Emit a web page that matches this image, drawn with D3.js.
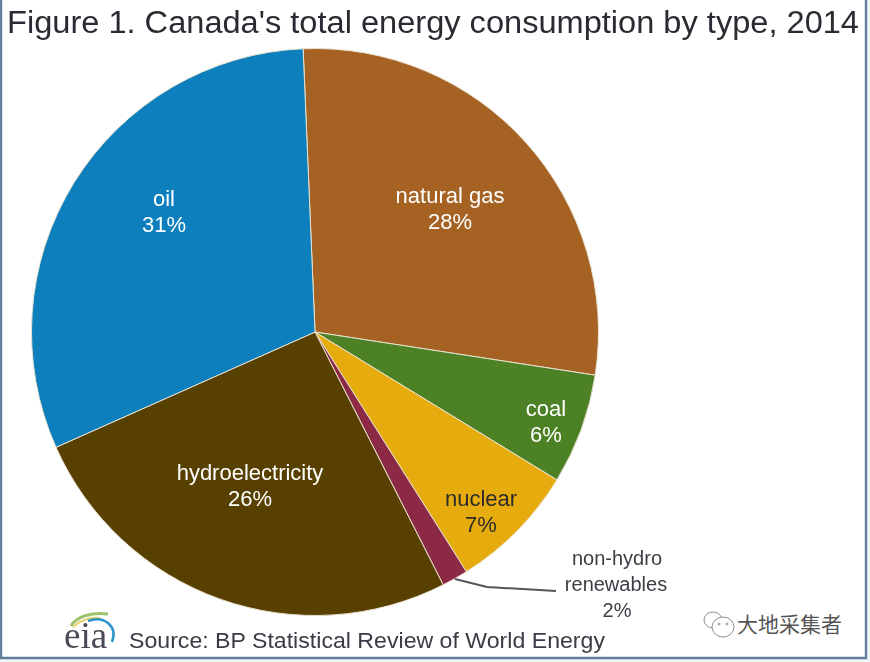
<!DOCTYPE html>
<html><head><meta charset="utf-8">
<script src="https://cdnjs.cloudflare.com/ajax/libs/d3/7.8.5/d3.min.js"></script>
<style>html,body{margin:0;padding:0;background:#eef5f8}svg{display:block}</style></head>
<body><svg id="c" width="870" height="662"></svg>
<script>
const categories=["natural gas","coal","nuclear","non-hydro renewables","hydroelectricity","oil"];
const shares=[28.1,6.3,7.3,1.5,25.8,31.0];
const shareLabels=["28%","6%","7%","2%","26%","31%"];
const colors=["#a66223","#4e8127","#e6ac08","#8c2a45","#584000","#0a7fbd"];
const titleText="Figure 1. Canada's total energy consumption by type, 2014";
const sourceText="Source: BP Statistical Review of World Energy";
const watermark="大地采集者";

const svg=d3.select("#c");
const font="'Liberation Sans',Arial,sans-serif";
const defs=svg.append("defs");
defs.append("filter").attr("id","soft").append("feGaussianBlur").attr("stdDeviation",0.55);

// frame
svg.append("rect").attr("x",0).attr("y",0).attr("width",867).attr("height",659).attr("fill","#fff");
svg.append("path").attr("d","M1,0V658H866V0").attr("fill","none").attr("stroke","#5f7f9c").attr("stroke-width",2.4);

const cx=315,cy=332,r=283.5;
const pie=d3.pie().sort(null).value(d=>d).startAngle(-2.4*Math.PI/180).endAngle((360-2.4)*Math.PI/180);
const arc=d3.arc().innerRadius(0).outerRadius(r);
const arcs=pie(shares);
const g=svg.append("g").attr("transform",`translate(${cx},${cy})`).attr("filter","url(#soft)");
g.selectAll("path").data(arcs).join("path").attr("d",arc)
 .attr("fill",(d,i)=>colors[i]).attr("stroke","#e9e2cf").attr("stroke-width",1);

// slice labels
const labelFrac=[[0.475,-0.05],[0,0]];
const labelPos={ "natural gas":[450,195,221],"coal":[546,408,434],"nuclear":[481,498,524],"hydroelectricity":[250,472,498],"oil":[164,198,224]};
const lab=svg.append("g").attr("filter","url(#soft)").attr("font-family",font).attr("text-anchor","middle");
categories.forEach((c,i)=>{
  const p=labelPos[c]; if(!p) return;
  const fill=c==="nuclear"?"#2b2b2b":"#fff";
  lab.append("text").attr("x",p[0]).attr("y",p[1]+8).attr("font-size",22).attr("fill",fill).text(c);
  lab.append("text").attr("x",p[0]).attr("y",p[2]+8).attr("font-size",22).attr("fill",fill).text(shareLabels[i]);
});

// non-hydro callout
const d3line=d3.line();
lab.append("path").attr("d",d3line([[455,579],[487,587],[556,591]])).attr("fill","none").attr("stroke","#55555f").attr("stroke-width",2);
const cf="#3d3d45";
lab.append("text").attr("x",617).attr("y",565).attr("font-size",20).attr("fill",cf).text("non-hydro");
lab.append("text").attr("x",616).attr("y",591).attr("font-size",20).attr("fill",cf).text("renewables");
lab.append("text").attr("x",617).attr("y",617).attr("font-size",20).attr("fill",cf).text(shareLabels[3]);

// title
lab.append("text").attr("x",7).attr("y",33).attr("text-anchor","start").attr("font-size",31).attr("fill","#2a2a30")
 .attr("textLength",852).attr("lengthAdjust","spacingAndGlyphs").text(titleText);

// source
lab.append("text").attr("x",129).attr("y",648).attr("text-anchor","start").attr("font-size",22).attr("fill","#3a3a44")
 .attr("textLength",476).attr("lengthAdjust","spacingAndGlyphs").text(sourceText);

// eia logo
const logo=svg.append("g").attr("filter","url(#soft)");
logo.append("text").attr("x",64).attr("y",648).attr("font-family","'Liberation Serif',serif").attr("font-size",37).attr("fill","#4a4a55").text("eia");
logo.append("path").attr("d","M71,626C77,616 92,612 108,614").attr("fill","none").attr("stroke","#9cc36a").attr("stroke-width",3);
logo.append("path").attr("d","M73,627C82,619 92,617 100,618").attr("fill","none").attr("stroke","#e6d36a").attr("stroke-width",2);
logo.append("path").attr("d","M88,621C104,615 118,626 112,642").attr("fill","none").attr("stroke","#2f93c8").attr("stroke-width",2.5);

// watermark
const wm=svg.append("g").attr("fill","none").attr("stroke","#8f8f8f").attr("stroke-width",1);
wm.append("ellipse").attr("cx",713).attr("cy",620).attr("rx",9).attr("ry",8);
wm.append("ellipse").attr("cx",723).attr("cy",627).attr("rx",11).attr("ry",10).attr("fill","#fff");
wm.append("circle").attr("cx",719).attr("cy",624).attr("r",1);
wm.append("circle").attr("cx",727).attr("cy",624).attr("r",1);
svg.append("text").attr("x",737).attr("y",632).attr("font-family","'Noto Sans CJK SC'").attr("font-size",21).attr("fill","#555").text(watermark);
</script></body></html>
